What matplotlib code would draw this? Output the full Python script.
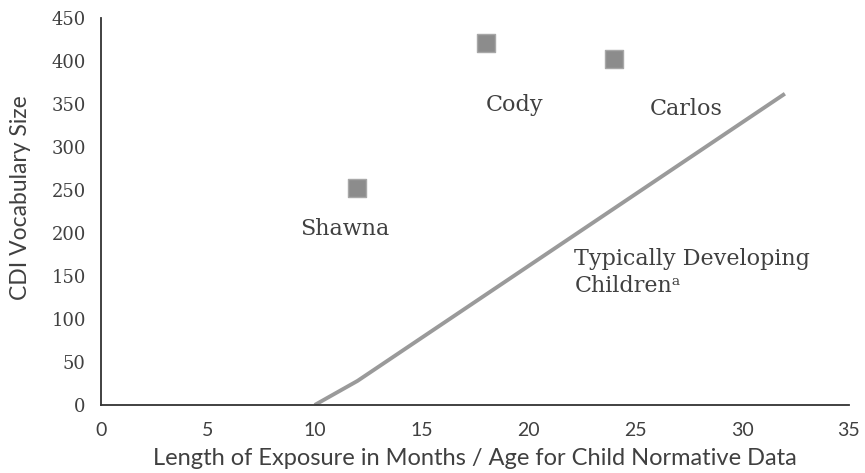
import matplotlib
matplotlib.use("Agg")
import matplotlib.pyplot as plt

# Datos
ninos = ['Shawna', 'Cody', 'Carlos']
meses_exposicion = [12, 18, 24]
vocabulario = [252, 421, 402]

# Curva normativa (ninos con desarrollo tipico)
edad_norma = [10, 12, 32]
vocab_norma = [0, 28, 362]

TXT = '#404040'
SERIF = 'DejaVu Serif'
SANS = 'Lato'

fig = plt.figure(figsize=(8.65, 4.73), dpi=100)
ax = fig.add_axes([0.1168, 0.1438, 0.8647, 0.818])

ax.plot(edad_norma, vocab_norma, color='#9a9a9a', lw=2.8, solid_capstyle='butt', zorder=2)
ax.scatter(meses_exposicion, vocabulario, marker='s', s=160, color='#8c8c8c',
           edgecolors='#a8a8a8', linewidths=1, zorder=3)

# Etiquetas de cada nino (posicion relativa al punto)
offsets = {'Shawna': (-0.58, -35), 'Cody': (1.33, -59), 'Carlos': (3.37, -45)}
for nombre, x, y in zip(ninos, meses_exposicion, vocabulario):
    dx, dy = offsets[nombre]
    ax.text(x + dx, y + dy, nombre, ha='center', va='top', fontsize=16,
            family=SERIF, color=TXT)

ax.text(22.15, 182, 'Typically Developing\nChildren\u1d43', ha='left', va='top',
        fontsize=16, family=SERIF, color=TXT, linespacing=1.25)

ax.set_xlim(0, 35)
ax.set_ylim(0, 450)
ax.set_xticks(range(0, 36, 5))
ax.set_yticks(range(0, 451, 50))
ax.tick_params(length=0, labelcolor=TXT)
ax.tick_params(axis='x', labelsize=14, pad=12)
ax.tick_params(axis='y', labelsize=13, pad=11)
for lab in ax.get_xticklabels():
    lab.set_family(SANS)
for lab in ax.get_yticklabels():
    lab.set_family(SERIF)

for s in ['top', 'right']:
    ax.spines[s].set_visible(False)
for s in ['left', 'bottom']:
    ax.spines[s].set_color('#333333')
    ax.spines[s].set_linewidth(1.3)

ax.set_xlabel('Length of Exposure in Months / Age for Child Normative Data',
              fontsize=17, family=SANS, color=TXT)
ax.set_ylabel('CDI Vocabulary Size', fontsize=16.5, family=SANS, color=TXT)
ax.xaxis.set_label_coords(0.5, -0.112)
ax.yaxis.set_label_coords(-0.094, 0.536)

fig.savefig('out.png', dpi=100)
